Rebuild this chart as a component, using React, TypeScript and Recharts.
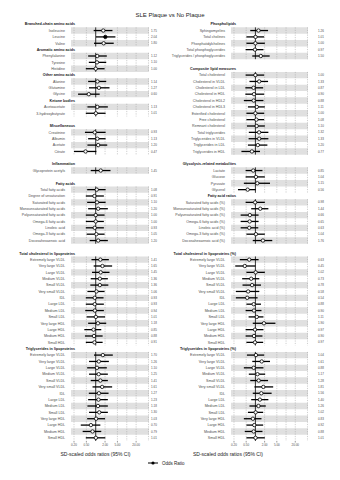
import React from 'react'
import { ScatterChart, Scatter, XAxis, YAxis, ReferenceArea, ReferenceLine, ErrorBar } from 'recharts'

const FONT = '"Liberation Sans", Arial, Helvetica, sans-serif'

// x axis
const xDomain = [0.16, 52]
const xTicks = [0.2, 0.5, 2, 5, 20]
const gridValues = [0.2, 0.5, 2, 5, 10, 20, 50]

const lipoNames = [
  'Extremely large VLDL', 'Very large VLDL', 'Large VLDL', 'Medium VLDL', 'Small VLDL',
  'Very small VLDL', 'IDL', 'Large LDL', 'Medium LDL', 'Small LDL',
  'Very large HDL', 'Large HDL', 'Medium HDL', 'Small HDL',
]

// ---- left column ----
const bcaaNames = ['Isoleucine', 'Leucine', 'Valine']
const bcaaOr = [1.75, 2.04, 1.8]
const bcaaLo = [0.86, 1.02, 0.88]
const bcaaHi = [3.46, 4.31, 3.8]

const aromNames = ['Phenylalanine', 'Tyrosine', 'Histidine']
const aromOr = [1.12, 1.1, 1.0]
const aromLo = [0.57, 0.6, 0.48]
const aromHi = [2.28, 2.18, 1.93]

const otherAaNames = ['Alanine', 'Glutamine', 'Glycine']
const otherAaOr = [1.14, 1.27, 0.6]
const otherAaLo = [0.57, 0.61, 0.27]
const otherAaHi = [2.18, 2.78, 1.34]

const ketoneNames = ['Acetoacetate', '3-hydroxybutyrate']
const ketoneOr = [1.13, 1.01]
const ketoneLo = [0.54, 0.48]
const ketoneHi = [2.46, 2.08]

const miscNames = ['Creatinine', 'Albumin', 'Acetate', 'Citrate']
const miscOr = [0.93, 1.13, 1.2, 0.47]
const miscLo = [0.45, 0.57, 0.54, 0.2]
const miscHi = [2.08, 2.08, 2.35, 1.05]

const inflamNames = ['Glycoprotein acetyls']
const inflamOr = [1.45]
const inflamLo = [0.69]
const inflamHi = [2.99]

const faNames = [
  'Total fatty acids', 'Degree of unsaturation', 'Saturated fatty acids', 'Monounsaturated fatty acids',
  'Polyunsaturated fatty acids', 'Omega-6 fatty acids', 'Linoleic acid', 'Omega-3 fatty acids', 'Docosahexaenoic acid',
]
const faOr = [1.08, 0.91, 1.1, 1.2, 1.0, 1.0, 0.93, 1.05, 1.2]
const faLo = [0.53, 0.48, 0.53, 0.57, 0.48, 0.48, 0.48, 0.51, 0.64]
const faHi = [2.08, 1.83, 2.08, 2.46, 1.93, 1.83, 1.83, 1.93, 2.46]

const tcOr = [1.41, 1.65, 1.45, 1.36, 1.36, 1.06, 0.93, 0.93, 0.94, 1.01, 1.18, 0.85, 0.88, 0.91]
const tcLo = [0.73, 0.86, 0.76, 0.69, 0.67, 0.54, 0.48, 0.48, 0.46, 0.51, 0.57, 0.43, 0.45, 0.48]
const tcHi = [2.65, 3.38, 2.78, 2.46, 2.55, 1.93, 1.79, 1.83, 1.83, 2.0, 2.18, 1.51, 1.67, 1.67]

const tgOr = [1.7, 1.26, 1.1, 1.25, 1.41, 1.61, 1.27, 1.23, 1.18, 1.3, 1.03, 0.7, 0.79, 1.01]
const tgLo = [0.88, 0.61, 0.53, 0.61, 0.69, 0.79, 0.6, 0.57, 0.54, 0.61, 0.53, 0.33, 0.38, 0.48]
const tgHi = [3.55, 2.65, 2.28, 2.46, 2.46, 3.38, 2.59, 2.46, 2.46, 2.46, 2.0, 1.41, 1.51, 2.04]

// ---- right column ----
const plNames = ['Sphingomyelins', 'Total cholines', 'Phosphatidylcholines', 'Total phosphoglycerides', 'Triglycerides / phosphoglycerides']
const plOr = [1.26, 1.01, 1.0, 0.97, 1.5]
const plLo = [0.68, 0.51, 0.51, 0.48, 0.79]
const plHi = [2.59, 1.93, 2.03, 1.83, 2.92]

const compNames = [
  'Total cholesterol', 'Cholesterol in VLDL', 'Cholesterol in LDL', 'Cholesterol in HDL', 'Cholesterol in HDL2',
  'Cholesterol in HDL3', 'Esterified cholesterol', 'Free cholesterol', 'Remnant cholesterol', 'Total triglycerides',
  'Triglycerides in VLDL', 'Triglycerides in LDL', 'Triglycerides in HDL',
]
const compOr = [1.0, 1.33, 0.87, 0.9, 0.88, 1.11, 1.0, 1.08, 1.1, 1.32, 1.33, 1.2, 0.77]
const compLo = [0.48, 0.64, 0.47, 0.47, 0.42, 0.57, 0.51, 0.51, 0.53, 0.61, 0.6, 0.57, 0.35]
const compHi = [1.93, 2.59, 1.79, 1.93, 1.83, 2.03, 1.93, 1.93, 2.03, 2.65, 2.65, 2.46, 1.41]

const glyNames = ['Lactate', 'Glucose', 'Pyruvate', 'Glycerol']
const glyOr = [0.85, 1.04, 1.15, 0.56]
const glyLo = [0.48, 0.48, 0.42, 0.27]
const glyHi = [1.7, 2.03, 3.0, 1.02]

const farNames = [
  'Saturated fatty acids (%)', 'Monounsaturated fatty acids (%)', 'Polyunsaturated fatty acids (%)',
  'Omega-6 fatty acids (%)', 'Linoleic acid (%)', 'Omega-3 fatty acids (%)', 'Docosahexaenoic acid (%)',
]
const farOr = [0.98, 1.44, 0.66, 0.65, 0.63, 1.04, 1.76]
const farLo = [0.48, 0.73, 0.33, 0.33, 0.33, 0.51, 0.82]
const farHi = [2.03, 2.65, 1.27, 1.27, 1.24, 2.03, 3.55]

const tcPctOr = [0.63, 0.45, 1.02, 0.73, 0.78, 0.58, 0.54, 0.88, 0.9, 1.11, 1.9, 0.97, 0.9, 0.97]
const tcPctLo = [0.31, 0.22, 0.51, 0.37, 0.38, 0.23, 0.23, 0.51, 0.48, 0.6, 0.82, 0.48, 0.48, 0.51]
const tcPctHi = [1.27, 1.0, 2.03, 1.34, 1.52, 1.34, 1.18, 1.52, 1.58, 1.83, 4.5, 1.83, 1.7, 1.79]

const tgPctOr = [1.04, 1.61, 0.88, 1.17, 1.28, 1.81, 1.56, 1.4, 1.26, 1.02, 0.83, 0.92, 0.88, 1.01]
const tgPctLo = [0.53, 0.79, 0.42, 0.61, 0.68, 0.93, 0.82, 0.73, 0.64, 0.57, 0.42, 0.51, 0.45, 0.51]
const tgPctHi = [1.93, 3.0, 1.83, 2.08, 2.59, 3.8, 3.38, 2.65, 2.18, 1.79, 1.58, 1.79, 1.7, 2.03]

type Group = { title: string; names: string[]; or: number[]; lo: number[]; hi: number[]; gapAfter?: boolean }

const leftGroups: Group[] = [
  { title: 'Branched-chain amino acids', names: bcaaNames, or: bcaaOr, lo: bcaaLo, hi: bcaaHi },
  { title: 'Aromatic amino acids', names: aromNames, or: aromOr, lo: aromLo, hi: aromHi },
  { title: 'Other amino acids', names: otherAaNames, or: otherAaOr, lo: otherAaLo, hi: otherAaHi },
  { title: 'Ketone bodies', names: ketoneNames, or: ketoneOr, lo: ketoneLo, hi: ketoneHi, gapAfter: true },
  { title: 'Miscellaneous', names: miscNames, or: miscOr, lo: miscLo, hi: miscHi, gapAfter: true },
  { title: 'Inflammation', names: inflamNames, or: inflamOr, lo: inflamLo, hi: inflamHi, gapAfter: true },
  { title: 'Fatty acids', names: faNames, or: faOr, lo: faLo, hi: faHi, gapAfter: true },
  { title: 'Total cholesterol in lipoproteins', names: lipoNames, or: tcOr, lo: tcLo, hi: tcHi },
  { title: 'Triglycerides in lipoproteins', names: lipoNames, or: tgOr, lo: tgLo, hi: tgHi },
]

const rightGroups: Group[] = [
  { title: 'Phospholipids', names: plNames, or: plOr, lo: plLo, hi: plHi, gapAfter: true },
  { title: 'Composite lipid measures', names: compNames, or: compOr, lo: compLo, hi: compHi, gapAfter: true },
  { title: 'Glycolysis-related metabolites', names: glyNames, or: glyOr, lo: glyLo, hi: glyHi },
  { title: 'Fatty acid ratios', names: farNames, or: farOr, lo: farLo, hi: farHi, gapAfter: true },
  { title: 'Total cholesterol in lipoproteins (%)', names: lipoNames, or: tcPctOr, lo: tcPctLo, hi: tcPctHi },
  { title: 'Triglycerides in lipoproteins (%)', names: lipoNames, or: tgPctOr, lo: tgPctLo, hi: tgPctHi },
]

// lay the groups out as rows: header, items, optional blank row
function buildRows(groups: Group[]) {
  let r = 0
  const info = new Map<number, any>()
  const points: any[] = []
  const spans: number[][] = []
  const shaded: number[] = []
  groups.forEach((g) => {
    info.set(r, { kind: 'h', label: g.title })
    r++
    const start = r
    g.names.forEach((n, i) => {
      const or = g.or[i]
      info.set(r, { kind: 'i', label: n, or })
      points.push({ x: or, y: r, err: [or - g.lo[i], g.hi[i] - or], sig: g.lo[i] > 1 || g.hi[i] < 1 })
      if (i % 2 === 0) shaded.push(r)
      r++
    })
    spans.push([start, r - 1])
    if (g.gapAfter) r++
  })
  return { info, points, spans, shaded, total: r }
}

const Point = (props: any) => {
  const { cx, cy, payload } = props
  return <circle cx={cx} cy={cy} r={1.7} fill={payload.sig ? '#000' : '#fff'} stroke="#000" strokeWidth={0.8} />
}

type ColProps = {
  groups: Group[]
  left: number
  axisW: number
  rightM: number
  pos: { head: number; label: number; val: number }
  titleDx: number
}

function Column({ groups, left, axisW, rightM, pos, titleDx }: ColProps) {
  const { info, points, spans, shaded, total } = buildRows(groups)
  const ticks = Array.from(info.keys())

  const renderTick = (props: any) => {
    const { y, payload } = props
    const row = info.get(payload.value)
    if (!row) return <g />
    if (row.kind === 'h') {
      return (
        <text x={pos.head} y={y} dy="0.35em" textAnchor="end" fontSize={3.7} fontWeight="bold" fill="#1a1a1a" fontFamily={FONT}>
          {row.label}
        </text>
      )
    }
    return (
      <g>
        <text x={pos.label} y={y} dy="0.35em" textAnchor="end" fontSize={3.6} fill="#4d4d4d" fontFamily={FONT}>
          {row.label}
        </text>
        <text x={pos.val} y={y} dy="0.35em" textAnchor="start" fontSize={3} fill="#4d4d4d" fontFamily={FONT}>
          {row.or.toFixed(2)}
        </text>
      </g>
    )
  }

  return (
    <div style={{ position: 'absolute', left, top: 0 }}>
      <ScatterChart width={170} height={480} margin={{ top: 21, right: rightM, bottom: 24.5, left: 0 }}>
        <XAxis
          type="number"
          dataKey="x"
          scale="log"
          domain={xDomain}
          ticks={xTicks}
          allowDataOverflow
          axisLine={false}
          tickSize={1.5}
          tickLine={{ stroke: '#333', strokeWidth: 0.5 }}
          tickMargin={1}
          tick={{ fontSize: 3, fill: '#4d4d4d', fontFamily: FONT }}
          tickFormatter={(v: number) => v.toFixed(2)}
          height={14.5}
          label={{ value: 'SD-scaled odds ratios (95% CI)', position: 'insideBottom', offset: 0, dx: titleDx, fontSize: 5, fill: '#1a1a1a', fontFamily: FONT }}
        />
        <YAxis
          type="number"
          dataKey="y"
          domain={[-0.5, total - 0.5]}
          reversed
          ticks={ticks}
          interval={0}
          width={axisW}
          axisLine={false}
          tickLine={false}
          tick={renderTick}
        />
        {shaded.map((r) => (
          <ReferenceArea key={'s' + r} y1={r - 0.5} y2={r + 0.5} fill="#e0e0e0" fillOpacity={1} stroke="none" />
        ))}
        {spans.map(([a, b]) =>
          gridValues.map((g) => (
            <ReferenceLine
              key={`g${a}-${g}`}
              segment={[{ x: g, y: a - 0.5 }, { x: g, y: b + 0.5 }]}
              stroke="#9e9e9e"
              strokeWidth={0.5}
              strokeDasharray="1.2 1.2"
            />
          ))
        )}
        {spans.map(([a, b]) => (
          <ReferenceLine key={`r${a}`} segment={[{ x: 1, y: a - 0.5 }, { x: 1, y: b + 0.5 }]} stroke="#000" strokeWidth={0.8} />
        ))}
        <Scatter data={points} shape={<Point />} isAnimationActive={false}>
          <ErrorBar dataKey="err" direction="x" width={0} stroke="#000" strokeWidth={1.3} isAnimationActive={false} />
        </Scatter>
      </ScatterChart>
    </div>
  )
}

export default function App() {
  return (
    <div style={{ position: 'absolute', left: 0, top: 0, width: 340, height: 480, background: '#fff', fontFamily: FONT }}>
      <Column groups={leftGroups} left={0} axisW={71} rightM={21} pos={{ head: 75, label: 65, val: 151 }} titleDx={-14.5} />
      <Column groups={rightGroups} left={170} axisW={61} rightM={32} pos={{ head: 66, label: 55, val: 148 }} titleDx={-41.5} />
      <svg width={340} height={480} style={{ position: 'absolute', left: 0, top: 0, pointerEvents: 'none' }}>
        <text x={170} y={15} dy="0.35em" textAnchor="middle" fontSize={6} fill="#1a1a1a" fontFamily={FONT}>
          SLE Plaque vs No Plaque
        </text>
        <line x1={148} x2={158} y1={463} y2={463} stroke="#000" strokeWidth={1} />
        <circle cx={153} cy={463} r={1.6} fill="#000" />
        <text x={162} y={463} dy="0.35em" fontSize={4.5} fill="#1a1a1a" fontFamily={FONT}>
          Odds Ratio
        </text>
      </svg>
    </div>
  )
}
